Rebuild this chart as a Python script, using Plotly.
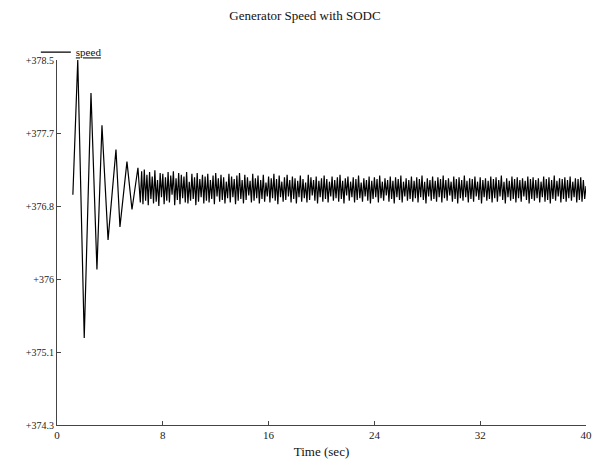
import plotly.graph_objects as go

# Transient part (extremes)
trans_t = [1.20, 1.57, 2.06, 2.57, 3.02, 3.40, 3.86, 4.46, 4.76, 5.29, 5.67, 6.12]
trans_speed = [376.95, 378.50, 375.30, 378.12, 376.09, 377.75, 376.43, 377.47, 376.58, 377.33, 376.78, 377.26]

# Steady-state oscillation, sampled every 0.1 s from 6.3 s
steady_start = 6.3
steady_step = 0.1
steady_speed = [
    376.86, 377.22, 376.84, 377.24, 376.88, 377.18, 376.83, 377.21, 376.90, 377.16,
    376.85, 377.23, 376.87, 377.12, 376.82, 377.20, 376.92, 377.19, 376.84, 377.15,
    376.88, 377.21, 376.86, 377.17, 376.95, 377.22, 376.83, 377.14, 376.89, 377.20,
    376.84, 377.18, 376.91, 377.16, 376.86, 377.21, 376.85, 377.10, 376.88, 377.19,
    376.90, 377.15, 376.83, 377.20, 376.87, 377.13, 376.92, 377.18, 376.85, 377.16,
    376.88, 377.19, 376.86, 377.12, 376.90, 377.17, 376.84, 377.20, 376.93, 377.14,
    376.87, 377.18, 376.89, 377.15, 376.85, 377.10, 376.91, 377.19, 376.86, 377.16,
    376.92, 377.13, 376.84, 377.17, 376.88, 377.20, 376.90, 377.12, 376.85, 377.18,
    376.89, 377.15, 376.94, 377.11, 376.86, 377.19, 376.88, 377.14, 376.91, 377.17,
    376.85, 377.12, 376.90, 377.18, 376.87, 377.09, 376.93, 377.16, 376.86, 377.14,
    376.91, 377.19, 376.88, 377.13, 376.84, 377.17, 376.92, 377.10, 376.87, 377.15,
    376.89, 377.18, 376.93, 377.12, 376.86, 377.16, 376.90, 377.14, 376.85, 377.11,
    376.92, 377.17, 376.87, 377.13, 376.91, 377.09, 376.86, 377.18, 376.89, 377.15,
    376.94, 377.12, 376.88, 377.16, 376.85, 377.11, 376.92, 377.14, 376.87, 377.17,
    376.90, 377.13, 376.86, 377.10, 376.93, 377.16, 376.88, 377.12, 376.91, 377.15,
    376.87, 377.18, 376.90, 377.11, 376.85, 377.14, 376.94, 377.16, 376.88, 377.10,
    376.92, 377.15, 376.86, 377.13, 376.89, 377.17, 376.91, 377.09, 376.87, 377.14,
    376.93, 377.12, 376.88, 377.16, 376.85, 377.11, 376.90, 377.15, 376.92, 377.13,
    376.86, 377.17, 376.91, 377.10, 376.88, 377.14, 376.94, 377.12, 376.87, 377.16,
    376.90, 377.11, 376.85, 377.15, 376.92, 377.13, 376.89, 377.17, 376.86, 377.10,
    376.93, 377.14, 376.88, 377.12, 376.90, 377.16, 376.87, 377.11, 376.91, 377.15,
    376.86, 377.13, 376.92, 377.17, 376.89, 377.10, 376.85, 377.14, 376.93, 377.12,
    376.88, 377.16, 376.90, 377.11, 376.87, 377.15, 376.92, 377.13, 376.86, 377.17,
    376.91, 377.12, 376.88, 377.14, 376.94, 377.10, 376.87, 377.16, 376.90, 377.13,
    376.85, 377.15, 376.91, 377.12, 376.88, 377.17, 376.92, 377.11, 376.86, 377.14,
    376.90, 377.13, 376.87, 377.16, 376.93, 377.10, 376.89, 377.15, 376.85, 377.12,
    376.92, 377.14, 376.88, 377.11, 376.90, 377.16, 376.86, 377.13, 376.91, 377.15,
    376.87, 377.12, 376.93, 377.17, 376.89, 377.10, 376.85, 377.14, 376.92, 377.11,
    376.88, 377.16, 376.90, 377.13, 376.86, 377.15, 376.91, 377.12, 376.87, 377.14,
    376.93, 377.11, 376.89, 377.16, 376.85, 377.13, 376.90, 377.15, 376.88, 377.12,
    376.91, 377.14, 376.86, 377.10, 376.92, 377.16, 376.87, 377.13, 376.89, 377.15,
    376.85, 377.12, 376.90, 377.17, 376.88, 377.11, 376.93, 377.14, 376.86, 377.13,
    376.90, 377.15, 376.87, 377.12, 376.91, 377.16, 376.88, 377.10, 376.92, 377.14,
    376.86, 377.13, 376.89, 377.15, 376.87, 377.12, 376.90, 377.05,
]
steady_t = [round(steady_start + steady_step * i, 2) for i in range(len(steady_speed))]

time = trans_t + steady_t
speed = trans_speed + steady_speed

y_tickvals = [374.30, 375.14, 375.98, 376.82, 377.66, 378.50]
y_ticktext = ["+374.3", "+375.1", "+376", "+376.8", "+377.7", "+378.5"]
x_tickvals = [0, 8, 16, 24, 32, 40]
x_ticktext = ["0", "8", "16", "24", "32", "40"]

serif = "Liberation Serif, DejaVu Serif, serif"

fig = go.Figure()
fig.add_trace(go.Scatter(
    x=time, y=speed, mode="lines", name="<u>speed</u>",
    line=dict(color="black", width=1.2),
))

fig.update_layout(
    width=592, height=461,
    margin=dict(l=57, r=6, t=60, b=36),
    paper_bgcolor="white", plot_bgcolor="white",
    font=dict(family=serif, color="#222", size=11),
    title=dict(text="Generator Speed with SODC", x=305 / 592, xref="container",
               xanchor="center", y=1 - 15 / 461, yref="container", yanchor="middle",
               font=dict(family=serif, size=13, color="#111")),
    showlegend=True,
    legend=dict(x=-0.04, xanchor="left", y=0.982, yanchor="bottom",
                bgcolor="rgba(0,0,0,0)", itemwidth=30,
                font=dict(family=serif, size=11, color="#111"),
                tracegroupgap=0),
)
fig.update_xaxes(
    range=[0, 40], tickvals=x_tickvals, ticktext=x_ticktext,
    showgrid=False, zeroline=False, automargin=False,
    showline=True, linecolor="#444", linewidth=1,
    ticks="inside", ticklen=4, tickcolor="#444",
    tickfont=dict(family=serif, size=11, color="#222"),
    title=dict(text="Time (sec)", standoff=6, font=dict(family=serif, size=13, color="#111")),
)
fig.update_yaxes(
    range=[374.3, 378.5], tickvals=y_tickvals, ticktext=y_ticktext,
    showgrid=False, zeroline=False, automargin=False,
    showline=True, linecolor="#444", linewidth=1,
    ticks="inside", ticklen=4, tickcolor="#444",
    tickfont=dict(family=serif, size=10, color="#222"),
)

fig.write_html("out.html")
